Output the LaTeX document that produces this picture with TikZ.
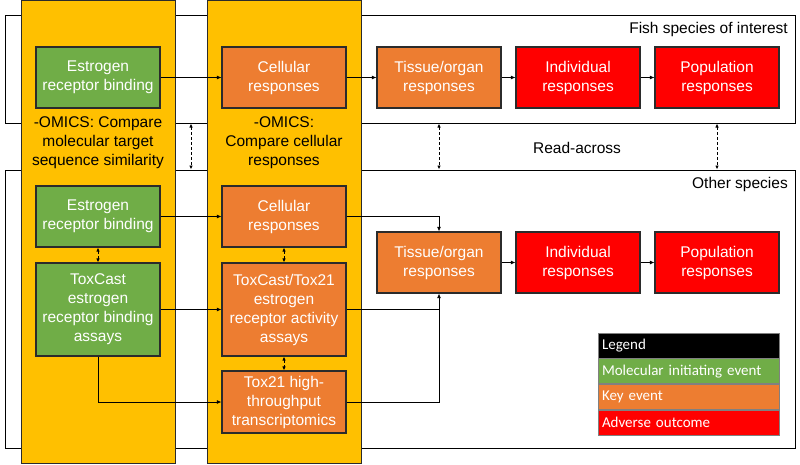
\documentclass[tikz,border=0pt]{standalone}
\usepackage{fontspec}
\setmainfont{Liberation Sans}
\newfontfamily\arialf{Liberation Sans}
\newfontfamily\legfont{Carlito}
\usetikzlibrary{arrows.meta}
\definecolor{cgreen}{HTML}{70AD47}
\definecolor{corange}{HTML}{ED7D31}
\definecolor{cred}{HTML}{FF0000}
\definecolor{cyellow}{HTML}{FFC000}
\definecolor{cborder}{HTML}{2B2B2B}
\tikzset{
  base/.style={draw=cborder, line width=1.1pt, minimum width=124pt, text=white, align=center,
    font=\arialf\fontsize{15.5}{19}\selectfont, inner sep=0pt},
  mie/.style={base, fill=cgreen},
  ke/.style={base, fill=corange},
  ao/.style={base, fill=cred},
  column/.style={draw=cborder, line width=0.9pt, fill=cyellow, minimum width=154pt, minimum height=463pt, inner sep=0pt},
  species/.style={draw=black, line width=1pt, minimum width=790pt, inner sep=0pt},
  lbl/.style={align=center, font=\arialf\fontsize{15.5}{19}\selectfont, inner sep=0pt},
  arr/.style={line width=0.8pt, -{Latex[length=4.5pt,width=4pt]}},
  ln/.style={line width=0.8pt},
  dash2/.style={line width=0.8pt, densely dashed, {Latex[length=4pt,width=3.5pt]}-{Latex[length=4pt,width=3.5pt]}},
  legrow/.style={draw=gray, line width=0.6pt, minimum width=181pt, minimum height=25pt, text width=173pt,
    align=left, text=white, font=\legfont\fontsize{15}{17}\selectfont, inner sep=0pt},
}
\begin{document}
\begin{tikzpicture}[x=1pt,y=-1pt]
\useasboundingbox (0,0) rectangle (800,464);
% species boxes
\node[species, minimum height=108pt] (fish) at (400,69) {};
\node[species, minimum height=278pt] (oth) at (400,309) {};
% yellow columns
\node[column] (colA) at (98,231.5) {};
\node[column] (colB) at (284,231.5) {};
% labels
\node[lbl, anchor=east] (fishlbl) at (788,29) {Fish species of interest};
\node[lbl, anchor=east] (othlbl) at (788,184) {Other species};
\node[lbl] (omA) at (98,143) {-OMICS: Compare\\molecular target\\sequence similarity};
\node[lbl] (omB) at (284,143) {-OMICS:\\Compare cellular\\responses};
\node[lbl] (read) at (577,148) {Read-across};
% top row
\node[mie, minimum height=61pt] (erb1) at (98,77.5) {Estrogen\\receptor binding};
\node[ke, minimum height=61pt] (cel1) at (284,77.5) {Cellular\\responses};
\node[ke, minimum height=61pt] (tis1) at (439,77.5) {Tissue/organ\\responses};
\node[ao, minimum height=61pt] (ind1) at (578,77.5) {Individual\\responses};
\node[ao, minimum height=61pt] (pop1) at (717,77.5) {Population\\responses};
% bottom
\node[mie, minimum height=61pt] (erb2) at (98,216.5) {Estrogen\\receptor binding};
\node[ke, minimum height=61pt] (cel2) at (284,216.5) {Cellular\\responses};
\node[mie, minimum height=93pt] (tc1) at (98,309.5) {ToxCast\\estrogen\\receptor binding\\assays};
\node[ke, minimum height=93pt] (tc2) at (284,309.5) {ToxCast/Tox21\\estrogen\\receptor activity\\assays};
\node[ke, minimum height=62pt] (ht) at (284,402) {Tox21 high-\\throughput\\transcriptomics};
\node[ke, minimum height=61pt] (tis2) at (439,262.5) {Tissue/organ\\responses};
\node[ao, minimum height=61pt] (ind2) at (578,262.5) {Individual\\responses};
\node[ao, minimum height=61pt] (pop2) at (717,262.5) {Population\\responses};
% connectors top
\draw[arr] (erb1) -- (cel1);
\draw[arr] (cel1) -- (tis1);
\draw[arr] (tis1) -- (ind1);
\draw[arr] (ind1) -- (pop1);
% read-across
\coordinate (mid) at (191,0);
\draw[dash2] (fish.south -| mid) -- (oth.north -| mid);
\draw[dash2] (fish.south -| tis1) -- (oth.north -| tis1);
\draw[dash2] (fish.south -| pop1) -- (oth.north -| pop1);
% bottom connectors
\draw[arr] (erb2) -- (cel2);
\draw[arr] (tc1) -- (tc2);
\draw[arr] (cel2.east) -- (cel2.east -| tis2) -- (tis2.north);
\draw[ln] (tc2.east) -- (tc2.east -| tis2);
\draw[arr] (ht.east) -- (ht.east -| tis2) -- (tis2.south);
\draw[arr] (tc1.south) |- (ht.west);
\draw[arr] (tis2) -- (ind2);
\draw[arr] (ind2) -- (pop2);
\draw[dash2] (erb2.south) -- (tc1.north);
\draw[dash2] (cel2.south) -- (tc2.north);
\draw[dash2] (tc2.south) -- (ht.north);
% legend
\node[legrow, fill=black] (lg0) at (688.5,345.5) {Legend};
\node[legrow, fill=cgreen, anchor=north] (lg1) at (lg0.south) {Molecular initiating event};
\node[legrow, fill=corange, anchor=north] (lg2) at (lg1.south) {Key event};
\node[legrow, fill=cred, anchor=north] (lg3) at (lg2.south) {Adverse outcome};
\end{tikzpicture}
\end{document}
